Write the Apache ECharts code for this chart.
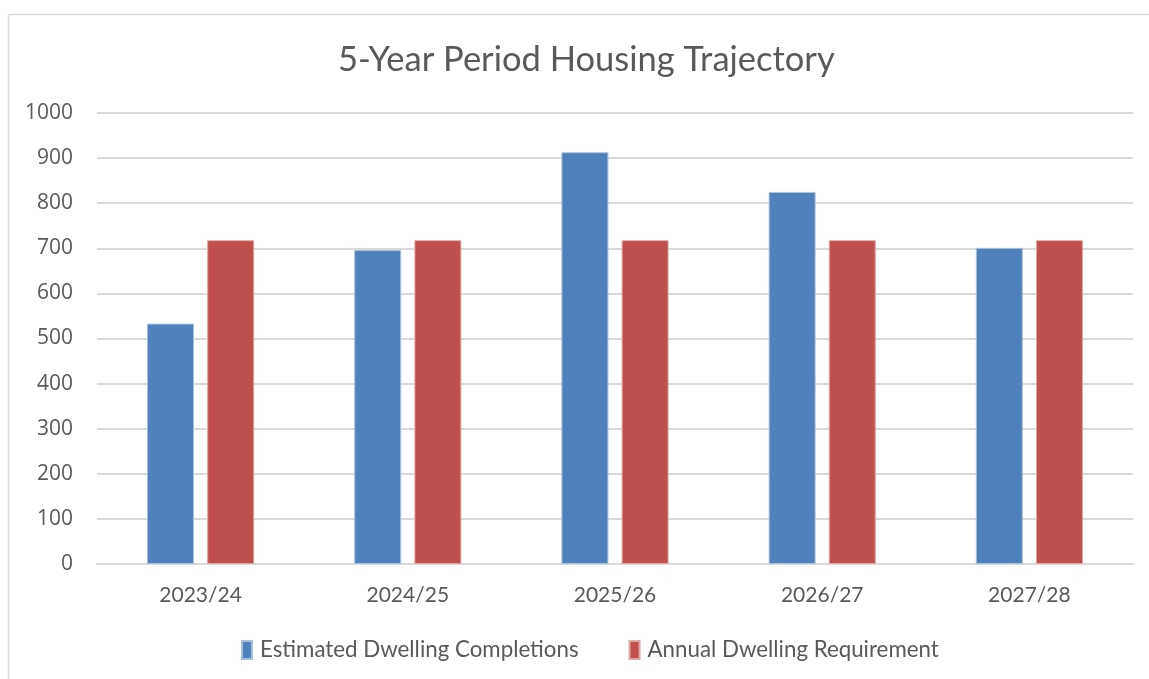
<!DOCTYPE html>
<html>
<head>
<meta charset="utf-8">
<script src="https://cdn.jsdelivr.net/npm/echarts@6/dist/echarts.min.js"></script>
<style>
html,body{margin:0;padding:0;background:#fff;}
#c{width:1149px;height:679px;}
</style>
</head>
<body>
<div id="c"></div>
<script>
const categories = ['2023/24', '2024/25', '2025/26', '2026/27', '2027/28'];
const completions = [533, 696, 913, 825, 701];
const requirement = [718, 718, 718, 718, 718];
const seriesNames = ['Estimated Dwelling Completions', 'Annual Dwelling Requirement'];

const FONT = 'Lato, "Open Sans", sans-serif';
const YFONT = '"Open Sans", Lato, sans-serif';
const chart = echarts.init(document.getElementById('c'), null, {renderer: 'canvas'});
chart.setOption({
  animation: false,
  backgroundColor: '#fff',
  title: {
    text: '5-Year Period Housing Trajectory',
    left: 333, top: 37,
    textStyle: {fontFamily: FONT, fontSize: 34.5, fontWeight: 'normal', color: '#595959'}
  },
  graphic: [
    {type: 'line', shape: {x1: 8.5, y1: 14.5, x2: 1149, y2: 14.5}, style: {stroke: '#d9d9d9', lineWidth: 1.5}},
    {type: 'line', shape: {x1: 8.5, y1: 14.5, x2: 8.5, y2: 679}, style: {stroke: '#d9d9d9', lineWidth: 1.5}}
  ],
  legend: {
    data: seriesNames,
    top: 634, left: 236,
    itemWidth: 10, itemHeight: 18, itemGap: 50,
    icon: 'rect',
    textStyle: {fontFamily: FONT, fontSize: 22.3, color: '#595959', padding: [0, 0, 0, 3]}
  },
  grid: {left: 97, right: 16, top: 113, bottom: 115},
  xAxis: {
    type: 'category', data: categories,
    axisLine: {lineStyle: {color: '#d9d9d9', width: 2}},
    axisTick: {show: false},
    axisLabel: {fontFamily: FONT, fontSize: 21, color: '#595959', margin: 21}
  },
  yAxis: {
    type: 'value', min: 0, max: 1000, interval: 100,
    axisLine: {show: false}, axisTick: {show: false},
    splitLine: {lineStyle: {color: '#d9d9d9', width: 2}},
    axisLabel: {fontFamily: YFONT, fontSize: 21, color: '#595959', margin: 24, formatter: v => String(v)}
  },
  series: [
    {name: seriesNames[0], type: 'bar', data: completions, barWidth: 47, barGap: '28%',
     itemStyle: {color: '#4f81bd', borderColor: '#a7c0de', borderWidth: 1}},
    {name: seriesNames[1], type: 'bar', data: requirement, barWidth: 47,
     itemStyle: {color: '#c0504d', borderColor: '#e0a6a4', borderWidth: 1}}
  ]
});
</script>
</body>
</html>
